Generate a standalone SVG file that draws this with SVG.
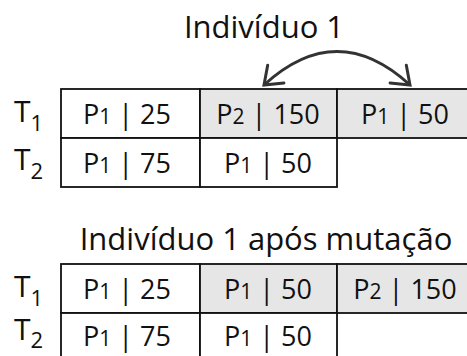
<svg xmlns="http://www.w3.org/2000/svg" width="467" height="356" viewBox="0 0 467 356">
<defs>
<style>
text{font-family:"Open Sans","Noto Sans","DejaVu Sans",sans-serif;fill:#111}
.title{font-size:31px;text-anchor:middle}
.cell{font-size:27px;text-anchor:middle}
.sm{font-size:21px}
.lab{font-size:30px}
.sub{font-size:22px}
.box{fill:#fff;stroke:#111;stroke-width:1.8}
.g{fill:#e6e6e6;stroke:#111;stroke-width:1.8}
.arc{fill:none;stroke:#333;stroke-width:3}
</style>
<marker id="ah" viewBox="-20 -14 24 28" markerWidth="24" markerHeight="28" refX="0" refY="0" orient="auto-start-reverse" markerUnits="userSpaceOnUse">
<path d="M-16,-12 L0,0 L-16,12" fill="none" stroke="#333" stroke-width="3" stroke-linecap="round"/>
</marker>
</defs>
<g id="title1"><text class="title" x="264" y="38">Indivíduo 1</text></g>
<g id="connectors"><path class="arc" d="M264,85 Q337,18 410,85" marker-start="url(#ah)" marker-end="url(#ah)"/></g>
<g id="table1">
<rect class="box" x="61" y="89" width="139" height="49"/>
<rect class="g" x="200" y="89" width="137" height="49"/>
<rect class="g" x="337" y="89" width="140" height="49"/>
<rect class="box" x="61" y="138" width="139" height="49"/>
<rect class="box" x="200" y="138" width="137" height="49"/>
<text class="lab" x="14" y="122">T<tspan class="sub" dy="9">1</tspan></text>
<text class="lab" x="14" y="170">T<tspan class="sub" dy="9">2</tspan></text>
<text class="cell" x="127" y="124">P<tspan class="sm">1</tspan>  | 25</text>
<text class="cell" x="268" y="124">P<tspan class="sm">2</tspan> | 150</text>
<text class="cell" x="405" y="124">P<tspan class="sm">1</tspan> | 50</text>
<text class="cell" x="127" y="173">P<tspan class="sm">1</tspan>  | 75</text>
<text class="cell" x="268" y="173">P<tspan class="sm">1</tspan> | 50</text>
</g>
<g id="title2"><text class="title" x="266" y="250">Indivíduo 1 após mutação</text></g>
<g id="table2">
<rect class="box" x="61" y="264" width="139" height="49"/>
<rect class="g" x="200" y="264" width="137" height="49"/>
<rect class="g" x="337" y="264" width="140" height="49"/>
<rect class="box" x="61" y="313" width="139" height="49"/>
<rect class="box" x="200" y="313" width="137" height="49"/>
<text class="lab" x="14" y="297">T<tspan class="sub" dy="9">1</tspan></text>
<text class="lab" x="14" y="340">T<tspan class="sub" dy="8">2</tspan></text>
<text class="cell" x="127" y="299">P<tspan class="sm">1</tspan>  | 25</text>
<text class="cell" x="268" y="299">P<tspan class="sm">1</tspan> | 50</text>
<text class="cell" x="405" y="299">P<tspan class="sm">2</tspan> | 150</text>
<text class="cell" x="127" y="346">P<tspan class="sm">1</tspan>  | 75</text>
<text class="cell" x="268" y="346">P<tspan class="sm">1</tspan> | 50</text>
</g>
</svg>
